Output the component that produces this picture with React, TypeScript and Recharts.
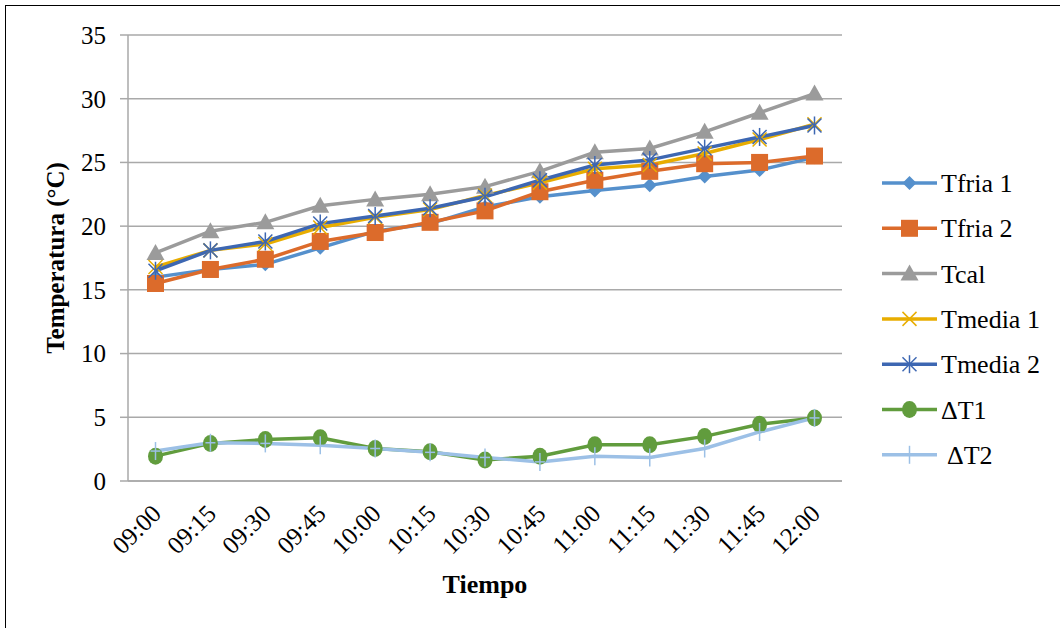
import React from 'react';
import { LineChart, Line, XAxis, YAxis, CartesianGrid } from 'recharts';

const horas = ['09:00', '09:15', '09:30', '09:45', '10:00', '10:15', '10:30', '10:45', '11:00', '11:15', '11:30', '11:45', '12:00'];
const tfria1 = [16.0, 16.6, 17.0, 18.3, 19.6, 20.2, 21.5, 22.3, 22.8, 23.2, 23.9, 24.4, 25.4];
const tfria2 = [15.5, 16.6, 17.4, 18.8, 19.5, 20.3, 21.2, 22.7, 23.6, 24.3, 24.9, 25.0, 25.5];
const tcal = [17.9, 19.6, 20.3, 21.6, 22.1, 22.5, 23.1, 24.3, 25.8, 26.1, 27.4, 28.9, 30.4];
const tmedia1 = [16.8, 18.1, 18.6, 19.9, 20.7, 21.3, 22.4, 23.4, 24.5, 24.8, 25.7, 26.8, 28.0];
const tmedia2 = [16.5, 18.1, 18.8, 20.2, 20.8, 21.4, 22.3, 23.6, 24.8, 25.2, 26.1, 27.0, 27.9];
const deltaT1 = [1.95, 2.95, 3.25, 3.4, 2.55, 2.3, 1.65, 1.95, 2.85, 2.85, 3.5, 4.45, 4.95];
const deltaT2 = [2.35, 3.0, 2.95, 2.8, 2.55, 2.25, 1.85, 1.5, 1.95, 1.85, 2.55, 3.85, 4.95];
const yTicks = [0, 5, 10, 15, 20, 25, 30, 35];

const series = [
  { key: 'tfria1', name: 'Tfria 1', color: '#5590cc', marker: 'diamond' },
  { key: 'tfria2', name: 'Tfria 2', color: '#dc6b2b', marker: 'square' },
  { key: 'tcal', name: 'Tcal', color: '#9b9b9b', marker: 'triangle' },
  { key: 'tmedia1', name: 'Tmedia 1', color: '#e8ad00', marker: 'x' },
  { key: 'tmedia2', name: 'Tmedia 2', color: '#3d67b2', marker: 'star' },
  { key: 'dT1', name: 'ΔT1', color: '#619c3d', marker: 'circle' },
  { key: 'dT2', name: 'ΔT2', color: '#9cc0e6', marker: 'plus' },
];

const data = horas.map((h, i) => ({
  hora: h,
  tfria1: tfria1[i],
  tfria2: tfria2[i],
  tcal: tcal[i],
  tmedia1: tmedia1[i],
  tmedia2: tmedia2[i],
  dT1: deltaT1[i],
  dT2: deltaT2[i],
}));

const FONT = "'Liberation Serif', 'Times New Roman', serif";
const GRID = '#a9a9a9';

function Marker({ kind, cx, cy, color }: { kind: string; cx: number; cy: number; color: string }) {
  switch (kind) {
    case 'diamond':
      return <polygon points={`${cx},${cy - 7} ${cx + 7},${cy} ${cx},${cy + 7} ${cx - 7},${cy}`} fill={color} />;
    case 'square':
      return <rect x={cx - 8.5} y={cy - 8.5} width={17} height={17} fill={color} />;
    case 'triangle':
      return <polygon points={`${cx},${cy - 9} ${cx + 9},${cy + 7} ${cx - 9},${cy + 7}`} fill={color} />;
    case 'x':
      return (
        <g stroke={color} strokeWidth={1.5}>
          <line x1={cx - 7} y1={cy - 7} x2={cx + 7} y2={cy + 7} />
          <line x1={cx - 7} y1={cy + 7} x2={cx + 7} y2={cy - 7} />
        </g>
      );
    case 'star':
      return (
        <g stroke={color} strokeWidth={1.5}>
          <line x1={cx - 7} y1={cy - 7} x2={cx + 7} y2={cy + 7} />
          <line x1={cx - 7} y1={cy + 7} x2={cx + 7} y2={cy - 7} />
          <line x1={cx} y1={cy - 9} x2={cx} y2={cy + 9} />
        </g>
      );
    case 'circle':
      return <ellipse cx={cx} cy={cy} rx={7.5} ry={8.5} fill={color} />;
    case 'plus':
      return (
        <g stroke={color} strokeWidth={1.5}>
          <line x1={cx} y1={cy - 9} x2={cx} y2={cy + 9} />
          <line x1={cx - 5} y1={cy} x2={cx + 5} y2={cy} />
        </g>
      );
    default:
      return null;
  }
}

const XTick = ({ x, y, payload }: any) => (
  <g transform={`translate(${x + 1},${y + 20})`}>
    <text x={0} y={0} dy="0.35em" textAnchor="end" transform="rotate(-45)" style={{ fontFamily: FONT }} fontSize={25} fill="#000">
      {payload.value}
    </text>
  </g>
);

function Leyenda() {
  return (
    <svg width={200} height={340} style={{ position: 'absolute', left: 870, top: 160 }}>
      {series.map((s, i) => {
        const cy = 23 + i * 45.3;
        return (
          <g key={s.key}>
            <line x1={12} x2={67} y1={cy} y2={cy} stroke={s.color} strokeWidth={3.5} />
            <Marker kind={s.marker} cx={39.5} cy={cy} color={s.color} />
            <text x={s.key === 'dT2' ? 77 : 71} y={cy} dy="0.35em" style={{ fontFamily: FONT }} fontSize={26} fill="#000">
              {s.name}
            </text>
          </g>
        );
      })}
    </svg>
  );
}

export default function App() {
  return (
    <div style={{ position: 'fixed', left: 0, top: 0, width: 1060, height: 628, background: '#fff', overflow: 'hidden', fontFamily: FONT }}>
      <div style={{ position: 'absolute', left: 5, top: 5, width: 1200, height: 800, border: '1.5px solid #000' }} />
      <div style={{ position: 'absolute', left: 0, top: 0 }}>
        <LineChart width={1060} height={628} data={data} margin={{ top: 35, right: 218, bottom: 0, left: 0 }}>
          <CartesianGrid vertical={false} stroke={GRID} strokeWidth={1.5} />
          <XAxis
            dataKey="hora"
            height={147}
            padding={{ left: 27.5, right: 27.5 }}
            tickLine={false}
            axisLine={{ stroke: GRID, strokeWidth: 1.5 }}
            tick={<XTick />}
            interval={0}
            label={({ viewBox }: any) => (
              <text
                x={viewBox.x + viewBox.width / 2}
                y={viewBox.y + 112}
                textAnchor="middle"
                style={{ fontFamily: FONT }}
                fontSize={26}
                fontWeight="bold"
                fill="#000"
              >
                Tiempo
              </text>
            )}
          />
          <YAxis
            width={128}
            domain={[0, 35]}
            ticks={yTicks}
            interval={0}
            tickSize={8}
            tickMargin={14}
            tickLine={{ stroke: GRID, strokeWidth: 1.5 }}
            axisLine={{ stroke: GRID, strokeWidth: 1.5 }}
            tick={{ fontSize: 25, fill: '#000', style: { fontFamily: FONT } }}
            label={({ viewBox }: any) => {
              const cx = 64;
              const cy = viewBox.y + viewBox.height / 2;
              return (
                <text
                  x={cx}
                  y={cy}
                  transform={`rotate(-90, ${cx}, ${cy})`}
                  textAnchor="middle"
                  style={{ fontFamily: FONT }}
                  fontSize={25}
                  fontWeight="bold"
                  fill="#000"
                >
                  Temperatura (°C)
                </text>
              );
            }}
          />
          {series.map((s) => (
            <Line
              key={s.key}
              type="linear"
              dataKey={s.key}
              name={s.name}
              stroke={s.color}
              strokeWidth={3.5}
              isAnimationActive={false}
              activeDot={false}
              dot={(p: any) => <Marker key={`${s.key}-${p.index}`} kind={s.marker} cx={p.cx} cy={p.cy} color={s.color} />}
            />
          ))}
        </LineChart>
      </div>
      <Leyenda />
    </div>
  );
}
